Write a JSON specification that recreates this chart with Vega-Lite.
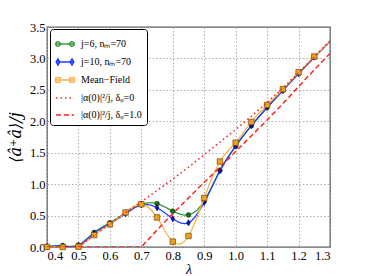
{
  "$schema": "https://vega.github.io/schema/vega-lite/v6.json",
  "width": 283,
  "height": 220,
  "autosize": {"type": "none"},
  "padding": {"left": 47, "top": 27, "right": 36, "bottom": 29},
  "background": "white",
  "config": {
    "view": {"stroke": "#5a5a5a", "strokeWidth": 1.3},
    "axis": {
      "domain": false,
      "ticks": false,
      "labelFont": "Liberation Serif",
      "labelFontSize": 12.5,
      "labelColor": "#000",
      "grid": true,
      "gridColor": "#9a9a9a",
      "gridDash": [1.5, 2],
      "gridWidth": 0.8,
      "titleFont": "DejaVu Serif",
      "titleFontWeight": "normal",
      "titleColor": "#000"
    },
    "legend": {
      "orient": "none",
      "legendX": 3,
      "legendY": 2,
      "padding": 5,
      "strokeColor": "#000",
      "fillColor": "#fff",
      "cornerRadius": 3,
      "labelFont": "Liberation Serif",
      "labelFontSize": 10,
      "labelColor": "#000",
      "symbolSize": 324,
      "symbolStrokeWidth": 1.5,
      "rowPadding": 2,
      "labelOffset": 6,
      "title": null
    }
  },
  "datasets": {
    "legend": [
      {"s": "j=6, nₘ=70", "l": 0.4, "v": 0},
      {"s": "j=10, nₘ=70", "l": 0.4, "v": 0},
      {"s": "Mean−Field", "l": 0.4, "v": 0},
      {"s": "|α(0)|²/j, δᵩ=0", "l": 0.4, "v": 0},
      {"s": "|α(0)|²/j, δᵩ=1.0", "l": 0.4, "v": 0}
    ],
    "sim": [
      {"s": "g", "l": 0.4, "v": 0.005, "m": 1},
      {"s": "g", "l": 0.45, "v": 0.02, "m": 1},
      {"s": "g", "l": 0.5, "v": 0.03, "m": 1},
      {"s": "g", "l": 0.55, "v": 0.23, "m": 1},
      {"s": "g", "l": 0.6, "v": 0.385, "m": 1},
      {"s": "g", "l": 0.65, "v": 0.545, "m": 1},
      {"s": "g", "l": 0.7, "v": 0.68, "m": 1},
      {"s": "g", "l": 0.75, "v": 0.69, "m": 1},
      {"s": "g", "l": 0.8, "v": 0.57, "m": 1},
      {"s": "g", "l": 0.85, "v": 0.51, "m": 1},
      {"s": "g", "l": 0.9, "v": 0.73, "m": 1},
      {"s": "g", "l": 0.95, "v": 1.22, "m": 1},
      {"s": "g", "l": 1.0, "v": 1.6, "m": 1},
      {"s": "g", "l": 1.05, "v": 1.93, "m": 1},
      {"s": "g", "l": 1.1, "v": 2.22, "m": 1},
      {"s": "g", "l": 1.15, "v": 2.49, "m": 1},
      {"s": "g", "l": 1.2, "v": 2.76, "m": 1},
      {"s": "g", "l": 1.25, "v": 3.02, "m": 1},
      {"s": "g", "l": 1.3, "v": 3.27, "m": 0},
      {"s": "b", "l": 0.4, "v": 0.005, "m": 1},
      {"s": "b", "l": 0.45, "v": 0.015, "m": 1},
      {"s": "b", "l": 0.5, "v": 0.025, "m": 1},
      {"s": "b", "l": 0.55, "v": 0.22, "m": 1},
      {"s": "b", "l": 0.6, "v": 0.37, "m": 1},
      {"s": "b", "l": 0.65, "v": 0.53, "m": 1},
      {"s": "b", "l": 0.7, "v": 0.67, "m": 1},
      {"s": "b", "l": 0.75, "v": 0.625, "m": 1},
      {"s": "b", "l": 0.8, "v": 0.45, "m": 1},
      {"s": "b", "l": 0.85, "v": 0.385, "m": 1},
      {"s": "b", "l": 0.9, "v": 0.71, "m": 1},
      {"s": "b", "l": 0.95, "v": 1.21, "m": 1},
      {"s": "b", "l": 1.0, "v": 1.61, "m": 1},
      {"s": "b", "l": 1.05, "v": 1.93, "m": 1},
      {"s": "b", "l": 1.1, "v": 2.22, "m": 1},
      {"s": "b", "l": 1.15, "v": 2.49, "m": 1},
      {"s": "b", "l": 1.2, "v": 2.76, "m": 1},
      {"s": "b", "l": 1.25, "v": 3.02, "m": 1},
      {"s": "b", "l": 1.3, "v": 3.27, "m": 0},
      {"s": "o", "l": 0.4, "v": 0, "m": 1},
      {"s": "o", "l": 0.45, "v": 0, "m": 1},
      {"s": "o", "l": 0.5, "v": 0.005, "m": 1},
      {"s": "o", "l": 0.55, "v": 0.19, "m": 1},
      {"s": "o", "l": 0.6, "v": 0.36, "m": 1},
      {"s": "o", "l": 0.65, "v": 0.55, "m": 1},
      {"s": "o", "l": 0.7, "v": 0.68, "m": 1},
      {"s": "o", "l": 0.75, "v": 0.47, "m": 1},
      {"s": "o", "l": 0.8, "v": 0.085, "m": 1},
      {"s": "o", "l": 0.85, "v": 0.175, "m": 1},
      {"s": "o", "l": 0.9, "v": 0.78, "m": 1},
      {"s": "o", "l": 0.95, "v": 1.36, "m": 1},
      {"s": "o", "l": 1.0, "v": 1.66, "m": 1},
      {"s": "o", "l": 1.05, "v": 1.99, "m": 1},
      {"s": "o", "l": 1.1, "v": 2.26, "m": 1},
      {"s": "o", "l": 1.15, "v": 2.51, "m": 1},
      {"s": "o", "l": 1.2, "v": 2.78, "m": 1},
      {"s": "o", "l": 1.25, "v": 3.03, "m": 1},
      {"s": "o", "l": 1.3, "v": 3.28, "m": 0}
    ],
    "theory": [
      {"s": "d0", "l": 0.4, "v": 0},
      {"s": "d0", "l": 0.45, "v": 0},
      {"s": "d0", "l": 0.5, "v": 0},
      {"s": "d0", "l": 0.55, "v": 0.19},
      {"s": "d0", "l": 0.6, "v": 0.37},
      {"s": "d0", "l": 0.65, "v": 0.55},
      {"s": "d0", "l": 0.7, "v": 0.72},
      {"s": "d0", "l": 0.75, "v": 0.9},
      {"s": "d0", "l": 0.8, "v": 1.08},
      {"s": "d0", "l": 0.85, "v": 1.27},
      {"s": "d0", "l": 0.9, "v": 1.47},
      {"s": "d0", "l": 0.95, "v": 1.67},
      {"s": "d0", "l": 1.0, "v": 1.87},
      {"s": "d0", "l": 1.05, "v": 2.08},
      {"s": "d0", "l": 1.1, "v": 2.3},
      {"s": "d0", "l": 1.15, "v": 2.53},
      {"s": "d0", "l": 1.2, "v": 2.77},
      {"s": "d0", "l": 1.25, "v": 3.02},
      {"s": "d0", "l": 1.3, "v": 3.28},
      {"s": "d1", "l": 0.4, "v": 0},
      {"s": "d1", "l": 0.5, "v": 0},
      {"s": "d1", "l": 0.6, "v": 0},
      {"s": "d1", "l": 0.7, "v": 0},
      {"s": "d1", "l": 0.75, "v": 0.27},
      {"s": "d1", "l": 0.8, "v": 0.53},
      {"s": "d1", "l": 0.85, "v": 0.78},
      {"s": "d1", "l": 0.9, "v": 1.03},
      {"s": "d1", "l": 0.95, "v": 1.27},
      {"s": "d1", "l": 1.0, "v": 1.52},
      {"s": "d1", "l": 1.05, "v": 1.77},
      {"s": "d1", "l": 1.1, "v": 2.02},
      {"s": "d1", "l": 1.15, "v": 2.28},
      {"s": "d1", "l": 1.2, "v": 2.55},
      {"s": "d1", "l": 1.25, "v": 2.82},
      {"s": "d1", "l": 1.3, "v": 3.08}
    ]
  },
  "encoding": {
    "x": {
      "field": "l", "type": "quantitative",
      "scale": {"domain": [0.4, 1.3], "nice": false, "zero": false},
      "axis": {
        "values": [0.4, 0.5, 0.6, 0.7, 0.8, 0.9, 1.0, 1.1, 1.2, 1.3],
        "format": ".1f",
        "labelPadding": 2,
        "title": "λ",
        "titleFont": "Liberation Serif",
        "titleFontSize": 14,
        "titleFontStyle": "italic",
        "titlePadding": 1
      }
    },
    "y": {
      "field": "v", "type": "quantitative",
      "scale": {"domain": [0, 3.5], "nice": false},
      "axis": {
        "values": [0, 0.5, 1.0, 1.5, 2.0, 2.5, 3.0, 3.5],
        "format": ".1f",
        "labelPadding": 2,
        "title": "⟨â⁺â⟩/j",
        "titleFontSize": 16,
        "titleFontStyle": "italic",
        "titlePadding": 6
      }
    }
  },
  "layer": [
    {
      "data": {"name": "legend"},
      "mark": {"type": "point", "filled": true, "opacity": 0, "size": 324, "strokeWidth": 1.5},
      "encoding": {
        "fill": {
          "field": "s", "type": "nominal",
          "scale": {
            "domain": ["j=6, nₘ=70", "j=10, nₘ=70", "Mean−Field", "|α(0)|²/j, δᵩ=0", "|α(0)|²/j, δᵩ=1.0"],
            "range": ["#1b6e1b", "#1414a8", "#f0a020", "#ff0000", "#ff0000"]
          }
        },
        "stroke": {
          "field": "s", "type": "nominal",
          "scale": {
            "domain": ["j=6, nₘ=70", "j=10, nₘ=70", "Mean−Field", "|α(0)|²/j, δᵩ=0", "|α(0)|²/j, δᵩ=1.0"],
            "range": ["#3a9a3a", "#1f3cff", "#ffb347", "#ff2020", "#ff2020"]
          }
        },
        "strokeDash": {
          "field": "s", "type": "nominal",
          "scale": {
            "domain": ["j=6, nₘ=70", "j=10, nₘ=70", "Mean−Field", "|α(0)|²/j, δᵩ=0", "|α(0)|²/j, δᵩ=1.0"],
            "range": [[1, 0], [1, 0], [1, 0], [1.5, 3], [5, 3]]
          }
        },
        "shape": {
          "field": "s", "type": "nominal",
          "scale": {
            "domain": ["j=6, nₘ=70", "j=10, nₘ=70", "Mean−Field", "|α(0)|²/j, δᵩ=0", "|α(0)|²/j, δᵩ=1.0"],
            "range": [
              "M-1,0L1,0M-0.53,0A0.25,0.25,0,1,1,-1.03,0A0.25,0.25,0,1,1,-0.53,0ZM1.03,0A0.25,0.25,0,1,1,0.53,0A0.25,0.25,0,1,1,1.03,0Z",
              "M-1,0L1,0M-0.78,-0.33L-0.58,0L-0.78,0.33L-0.98,0ZM0.78,-0.33L0.98,0L0.78,0.33L0.58,0Z",
              "M-1,0L1,0M-1.03,-0.25H-0.53V0.25H-1.03ZM0.53,-0.25H1.03V0.25H0.53Z",
              "M-1,0L1,0",
              "M-1,0L1,0"
            ]
          }
        }
      }
    },
    {
      "data": {"name": "sim"},
      "transform": [{"filter": "datum.s == 'g'"}],
      "mark": {"type": "line", "interpolate": "natural", "stroke": "#3a9a3a", "strokeWidth": 1.3, "clip": true},
      "encoding": {}
    },
    {
      "data": {"name": "sim"},
      "transform": [{"filter": "datum.s == 'g' && datum.m == 1"}],
      "mark": {"type": "point", "shape": "circle", "filled": true, "size": 24, "fill": "#1b6e1b", "stroke": "#0a3a0a", "strokeWidth": 0.5, "opacity": 1},
      "encoding": {}
    },
    {
      "data": {"name": "sim"},
      "transform": [{"filter": "datum.s == 'b'"}],
      "mark": {"type": "line", "interpolate": "natural", "stroke": "#1f3cff", "strokeWidth": 1.3, "clip": true},
      "encoding": {}
    },
    {
      "data": {"name": "sim"},
      "transform": [{"filter": "datum.s == 'b' && datum.m == 1"}],
      "mark": {"type": "point", "shape": "M0,-1L0.6,0L0,1L-0.6,0Z", "filled": true, "size": 40, "fill": "#1414a8", "stroke": "#000050", "strokeWidth": 0.5, "opacity": 1},
      "encoding": {}
    },
    {
      "data": {"name": "sim"},
      "transform": [{"filter": "datum.s == 'o'"}],
      "mark": {"type": "line", "interpolate": "natural", "stroke": "#ffb347", "strokeWidth": 1.3, "clip": true},
      "encoding": {}
    },
    {
      "data": {"name": "sim"},
      "transform": [{"filter": "datum.s == 'o' && datum.m == 1"}],
      "mark": {"type": "point", "shape": "square", "filled": true, "size": 30, "fill": "#f0a020", "stroke": "#6b4a10", "strokeWidth": 0.7, "opacity": 1},
      "encoding": {}
    },
    {
      "data": {"name": "theory"},
      "transform": [{"filter": "datum.s == 'd0'"}],
      "mark": {"type": "line", "stroke": "#ff2020", "strokeWidth": 1.6, "strokeDash": [1.5, 3], "clip": true},
      "encoding": {}
    },
    {
      "data": {"name": "theory"},
      "transform": [{"filter": "datum.s == 'd1'"}],
      "mark": {"type": "line", "stroke": "#ff2020", "strokeWidth": 1.5, "strokeDash": [5, 3], "clip": true},
      "encoding": {}
    }
  ]
}
